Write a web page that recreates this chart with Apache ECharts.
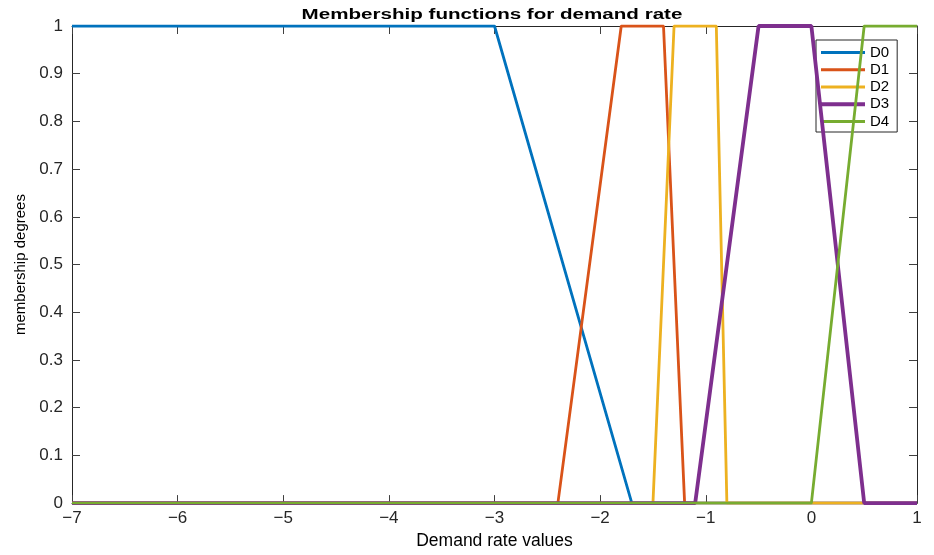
<!DOCTYPE html>
<html><head><meta charset="utf-8">
<script src="https://cdn.jsdelivr.net/npm/echarts@6/dist/echarts.min.js"></script>
<style>html,body{margin:0;padding:0;background:#fff}#c{width:934px;height:555px}</style>
</head><body><div id="c"></div>
<script>
const seriesNames = ['D0','D1','D2','D3','D4'];
const d0x = [-7, -3, -1.7, 1];               const d0y = [1, 1, 0, 0];
const d1x = [-7, -2.4, -1.8, -1.4, -1.2, 1]; const d1y = [0, 0, 1, 1, 0, 0];
const d2x = [-7, -1.5, -1.3, -0.9, -0.8, 1]; const d2y = [0, 0, 1, 1, 0, 0];
const d3x = [-7, -1.1, -0.5, 0, 0.5, 1];     const d3y = [0, 0, 1, 1, 0, 0];
const d4x = [-7, 0, 0.5, 1];                 const d4y = [0, 0, 1, 1];
const xTicks = [-7,-6,-5,-4,-3,-2,-1,0,1];
const yTicks = [0,0.1,0.2,0.3,0.4,0.5,0.6,0.7,0.8,0.9,1];
const titleText = 'Membership functions for demand rate';
const xName = 'Demand rate values';
const yName = 'membership degrees';

const colors = ['#0072BD','#D95319','#EDB120','#7E2F8E','#77AC30'];
const widths = [2.8,2.8,2.8,3.8,2.8];
const xs=[d0x,d1x,d2x,d3x,d4x], ys=[d0y,d1y,d2y,d3y,d4y];
const font = 'Liberation Sans, Arial, Helvetica, sans-serif';
const thinIcon = 'path://M0,0 L0,0 Z M0,5.5 L44,5.5 L44,8.5 L0,8.5 Z M44,14 L44,14 Z';
const thickIcon = 'path://M0,0 L0,0 Z M0,5 L44,5 L44,9 L0,9 Z M44,14 L44,14 Z';

const chart = echarts.init(document.getElementById('c'));
const axisCommon = {
  axisLine:{show:true,onZero:false,lineStyle:{color:'#262626',width:1}},
  axisTick:{show:true,inside:true,length:8,lineStyle:{color:'#404040'}},
  splitLine:{show:false}
};
const fmtX = v => xTicks.includes(v) ? (v<0 ? '\u2212'+Math.abs(v) : String(v)) : '';
const fmtY = v => { const r=Math.round(v*10)/10; return yTicks.includes(r) ? String(r) : ''; };
chart.setOption({
  animation:false,
  backgroundColor:'#fff',
  graphic:[{type:'text',x:492,y:15,scaleX:1.47,scaleY:1,z:100,
    style:{text:titleText,x:0,y:0,align:'center',verticalAlign:'middle',
      font:'bold 14px '+font,fill:'#000'}}],
  grid:{left:72,right:17,top:26,bottom:50},
  legend:{orient:'vertical',left:816,top:40,
    data:seriesNames.map((n,i)=>({name:n,icon:i===3?thickIcon:thinIcon})),
    itemWidth:44,itemHeight:14,itemGap:2.25,padding:[5,8,3,5],
    borderColor:'#262626',borderWidth:1,backgroundColor:'#fff',
    itemStyle:{borderWidth:0},
    textStyle:{fontFamily:font,fontSize:15,color:'#000',lineHeight:14}},
  xAxis:[
    Object.assign({type:'value',min:-7,max:1,interval:1,position:'bottom',
      name:xName,nameLocation:'middle',nameGap:28,
      nameTextStyle:{fontFamily:font,fontSize:17.5,color:'#000'},
      axisLabel:{fontFamily:font,fontSize:17,color:'#262626',margin:7,formatter:fmtX}},axisCommon),
    Object.assign({type:'value',min:-7,max:1,interval:1,position:'top',axisLabel:{show:false}},axisCommon)
  ],
  yAxis:[
    Object.assign({type:'value',min:0,max:1,interval:0.1,position:'left',
      name:yName,nameLocation:'middle',nameGap:40,
      nameTextStyle:{fontFamily:font,fontSize:15,color:'#000'},
      axisLabel:{fontFamily:font,fontSize:17,color:'#262626',margin:9,formatter:fmtY}},axisCommon),
    Object.assign({type:'value',min:0,max:1,interval:0.1,position:'right',axisLabel:{show:false}},axisCommon)
  ],
  series: seriesNames.map((n,i)=>({
    name:n,type:'line',symbol:'none',showSymbol:false,
    data:xs[i].map((x,j)=>[x,ys[i][j]]),
    lineStyle:{color:colors[i],width:widths[i]},
    itemStyle:{color:colors[i]},
    z:2+i
  }))
});
</script></body></html>
